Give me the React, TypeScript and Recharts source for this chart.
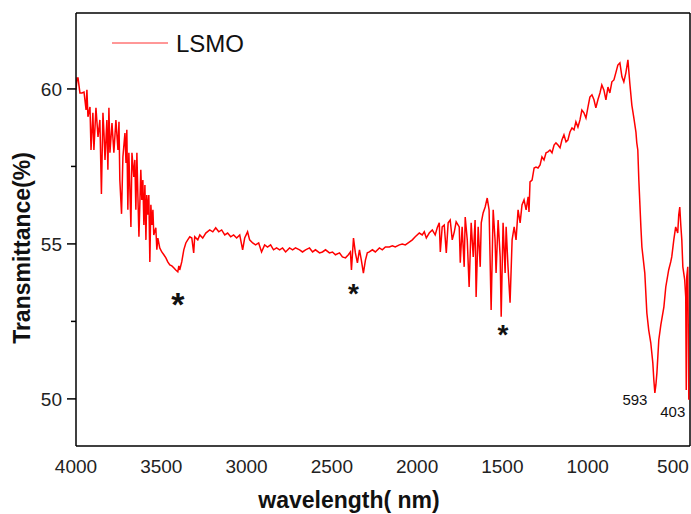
import React from 'react';
import {
  LineChart,
  Line,
  XAxis,
  YAxis,
  ReferenceLine,
  ReferenceDot,
  Legend,
} from 'recharts';

// [wavelength (nm), transmittance (%)]
const lsmoSpectrum: [number, number][] = [
  [4000, 59.97], [3994, 60.35], [3988, 60.35], [3977, 59.87], [3965, 59.87], [3953, 59.9], [3941, 59.32],
  [3936, 59.97], [3930, 59.1], [3918, 59.42], [3912, 58.03], [3901, 59.23], [3895, 58.03], [3883, 59.39],
  [3871, 58.45], [3860, 59.0], [3851, 56.61], [3842, 59.23], [3836, 58.58], [3830, 57.71], [3819, 59.0],
  [3813, 57.39], [3807, 59.39], [3801, 57.94], [3789, 58.9], [3778, 57.94], [3766, 59.0], [3754, 58.03],
  [3748, 58.94], [3743, 57.06], [3733, 55.97], [3725, 57.81], [3713, 58.58], [3707, 57.61], [3702, 58.68],
  [3696, 56.1], [3690, 57.94], [3678, 55.55], [3672, 57.94], [3661, 57.16], [3655, 57.71], [3649, 56.1],
  [3643, 57.94], [3637, 56.52], [3631, 55.23], [3620, 57.39], [3614, 56.42], [3608, 57.06], [3602, 55.61],
  [3596, 56.9], [3590, 55.13], [3585, 56.58], [3579, 55.94], [3573, 56.58], [3567, 54.42], [3561, 56.26],
  [3555, 55.61], [3549, 56.1], [3544, 55.29], [3532, 55.52], [3526, 54.81], [3520, 55.19], [3509, 54.87],
  [3497, 54.74], [3485, 54.65], [3473, 54.55], [3462, 54.42], [3450, 54.32], [3438, 54.29], [3427, 54.23],
  [3415, 54.16], [3403, 54.1], [3397, 54.29], [3392, 54.16], [3380, 54.42], [3368, 54.81], [3356, 55.03],
  [3345, 55.13], [3333, 55.23], [3321, 55.19],
  [3310, 54.71], [3304, 55.23], [3286, 55.13], [3274, 55.29], [3257, 55.19], [3239, 55.35], [3216, 55.45],
  [3198, 55.39], [3181, 55.52], [3163, 55.39], [3146, 55.45], [3128, 55.29], [3111, 55.35], [3093, 55.23],
  [3076, 55.29], [3058, 55.19], [3040, 55.29], [3023, 54.81], [3011, 55.19], [2994, 55.39], [2982, 55.13],
  [2964, 55.03], [2947, 54.97], [2929, 55.03], [2912, 54.74], [2894, 54.97], [2877, 54.9], [2859, 54.97],
  [2842, 54.81], [2824, 54.87], [2806, 54.81], [2789, 54.87], [2771, 54.74], [2748, 54.87], [2730, 54.81],
  [2713, 54.87], [2689, 54.81], [2672, 54.74], [2654, 54.81], [2631, 54.87], [2613, 54.74], [2596, 54.81],
  [2572, 54.71], [2555, 54.74], [2537, 54.81], [2514, 54.71], [2496, 54.74], [2479, 54.65], [2455, 54.71],
  [2438, 54.58], [2420, 54.55], [2403, 54.65], [2391, 54.74], [2385, 54.16], [2373, 55.19], [2362, 54.71],
  [2350, 54.39], [2338, 54.81], [2327, 54.48], [2315, 54.06], [2303, 54.48], [2292, 54.71], [2280, 54.74],
  [2262, 54.81], [2245, 54.74], [2221, 54.87], [2204, 54.81], [2186, 54.9], [2163, 54.9], [2145, 54.94],
  [2128, 54.9], [2104, 54.97], [2087, 55.0], [2069, 54.97], [2046, 55.06], [2028, 55.13], [2011, 55.23],
  [1987, 55.35], [1970, 55.29], [1958, 55.39], [1946, 55.19], [1929, 55.35], [1911, 55.45], [1894, 55.29],
  [1882, 55.52], [1870, 55.68], [1864, 54.74], [1853, 55.55], [1841, 55.61], [1829, 54.71], [1818, 55.68],
  [1806, 55.77], [1794, 55.13], [1782, 55.39], [1771, 55.71], [1753, 55.55], [1747, 54.39], [1736, 55.55],
  [1724, 54.26], [1718, 55.87], [1706, 55.13], [1695, 53.61], [1683, 55.68], [1671, 54.58], [1660, 55.77],
  [1654, 53.29], [1642, 55.55], [1630, 54.26], [1624, 55.68], [1613, 56.0], [1601, 56.19], [1589, 56.48],
  [1578, 56.1], [1566, 52.87], [1554, 56.1], [1543, 55.13], [1537, 54.06], [1525, 55.77], [1513, 54.58],
  [1507, 52.65], [1496, 55.68], [1484, 54.06], [1478, 55.55], [1467, 54.26], [1455, 53.1], [1443, 55.13],
  [1431, 55.55], [1420, 55.13], [1408, 56.1], [1396, 55.68], [1385, 56.26], [1373, 56.42], [1361, 56.1],
  [1349, 56.52], [1344, 56.03], [1338, 57.0],
  [1326, 57.06], [1314, 57.45], [1303, 57.48], [1291, 57.45], [1279, 57.55], [1268, 57.81], [1256, 57.71],
  [1244, 57.94], [1233, 57.97], [1221, 58.03], [1209, 57.94], [1197, 58.19], [1186, 58.26], [1174, 58.19],
  [1162, 58.1], [1151, 58.35], [1139, 58.52], [1127, 58.29], [1116, 58.35], [1104, 58.61], [1092, 58.74],
  [1080, 58.68], [1069, 58.94], [1057, 58.77], [1045, 59.0], [1034, 59.32], [1022, 59.23], [1010, 59.06],
  [998, 59.42], [987, 59.74], [975, 59.81], [963, 59.65], [952, 59.39], [940, 59.65], [928, 59.87],
  [917, 60.13], [905, 59.97], [893, 59.65], [881, 60.06], [870, 59.87], [858, 60.23], [846, 60.29],
  [835, 60.52], [823, 60.77], [811, 60.84], [799, 60.39], [788, 60.23], [776, 60.52], [764, 60.94],
  [753, 60.19], [741, 59.48], [729, 59.06], [717, 58.61], [712, 58.26], [706, 58.03], [700, 57.06],
  [688, 55.55], [682, 54.9], [665, 54.06], [653, 52.77], [642, 52.22], [630, 51.81], [618, 51.16],
  [612, 50.61], [606, 50.19], [600, 50.45], [594, 50.84], [583, 51.9], [571, 52.39], [553, 52.97],
  [542, 53.61], [525, 54.16], [513, 54.42], [507, 54.58], [495, 55.13], [484, 55.55], [472, 55.35],
  [466, 55.94], [460, 56.19], [454, 55.61], [448, 55.13], [442, 54.26], [431, 53.84], [425, 53.29],
  [422, 50.29], [419, 53.94], [413, 54.26], [407, 49.97],
];

const xTicks = [4000, 3500, 3000, 2500, 2000, 1500, 1000, 500];
const yTicks = [50, 52.5, 55, 57.5, 60];

// [wavelength, transmittance, text, font size]
const annotations: [number, number, string, number][] = [
  [3403, 53.32, '*', 34],
  [2373, 53.61, '*', 28],
  [1496, 52.29, '*', 28],
  [723, 49.98, '593', 15],
  [501, 49.58, '403', 15],
];

const data = lsmoSpectrum.map(([nm, t]) => ({ nm, t }));

const FONT = "'Liberation Sans', Arial, sans-serif";
const AXIS_LEFT = 76;

const YTick = (props: any) => {
  const { y, payload } = props;
  const major = payload.value % 5 === 0;
  return (
    <g>
      <line x1={AXIS_LEFT - (major ? 9 : 5)} x2={AXIS_LEFT} y1={y} y2={y} stroke="#000" strokeWidth={1.5} />
      {major && (
        <text x={62} y={y} dy="0.36em" textAnchor="end" fontSize={19} fontFamily={FONT} fill="#222">
          {payload.value}
        </text>
      )}
    </g>
  );
};

const XTick = (props: any) => {
  const { x, payload } = props;
  return (
    <text x={x} y={466} dy="0.36em" textAnchor="middle" fontSize={19} fontFamily={FONT} fill="#222">
      {payload.value}
    </text>
  );
};

const annotationLabel = (text: string, size: number) => (props: any) => {
  const vb = props.viewBox || {};
  const cx = (vb.x ?? 0) + (vb.width ?? 0) / 2;
  const cy = (vb.y ?? 0) + (vb.height ?? 0) / 2;
  const isStar = text === '*';
  return (
    <text
      x={cx}
      y={cy + (isStar ? 0.58 : 0.36) * size}
      textAnchor="middle"
      fontSize={size}
      fontWeight={isStar ? 'bold' : 'normal'}
      fontFamily={FONT}
      fill="#111"
    >
      {text}
    </text>
  );
};

const renderLegend = () => (
  <svg width={150} height={30}>
    <line x1={0} x2={56} y1={15} y2={15} stroke="#ff3030" strokeWidth={1} />
    <text x={64} y={15 + 0.36 * 24} fontSize={24} fontFamily={FONT} fill="#111">
      LSMO
    </text>
  </svg>
);

export default function App() {
  return (
    <div style={{ position: 'absolute', left: 0, top: 0, width: 691, height: 514, background: '#fff' }}>
      <LineChart width={691} height={514} data={data} margin={{ top: 13, right: 1, bottom: 0, left: 0 }}>
        <XAxis
          type="number"
          dataKey="nm"
          domain={[400, 4000]}
          reversed
          allowDataOverflow
          ticks={xTicks}
          interval={0}
          tick={<XTick />}
          tickLine={false}
          axisLine={{ stroke: '#000', strokeWidth: 1.5 }}
          height={68}
          label={() => (
            <text x={349} y={508} textAnchor="middle" fontSize={23} fontWeight="bold" fontFamily={FONT} fill="#111">
              wavelength( nm)
            </text>
          )}
        />
        <YAxis
          type="number"
          domain={[48.48, 62.45]}
          allowDataOverflow
          ticks={yTicks}
          interval={0}
          tick={<YTick />}
          tickLine={false}
          axisLine={{ stroke: '#000', strokeWidth: 1.5 }}
          width={76}
          label={() => (
            <text
              x={22}
              y={248}
              transform="rotate(-90 22 248)"
              dy="0.36em"
              textAnchor="middle"
              fontSize={23}
              fontWeight="bold"
              fontFamily={FONT}
              fill="#111"
            >
              Transmittance(%)
            </text>
          )}
        />
        <ReferenceLine y={62.45} stroke="#000" strokeWidth={1.5} ifOverflow="visible" />
        <ReferenceLine x={400} stroke="#000" strokeWidth={1.5} ifOverflow="visible" />
        <Legend
          layout="horizontal"
          verticalAlign="middle"
          align="center"
          content={renderLegend}
          wrapperStyle={{ position: 'absolute', top: 28, left: 112, width: 150, height: 30 }}
        />
        <Line
          type="linear"
          dataKey="t"
          stroke="#ff0000"
          strokeWidth={1.5}
          dot={false}
          isAnimationActive={false}
          legendType="line"
        />
        {annotations.map(([nm, t, text, size], i) => (
          <ReferenceDot
            key={i}
            x={nm}
            y={t}
            r={0}
            fill="none"
            stroke="none"
            ifOverflow="visible"
            label={annotationLabel(text, size)}
          />
        ))}
      </LineChart>
    </div>
  );
}
